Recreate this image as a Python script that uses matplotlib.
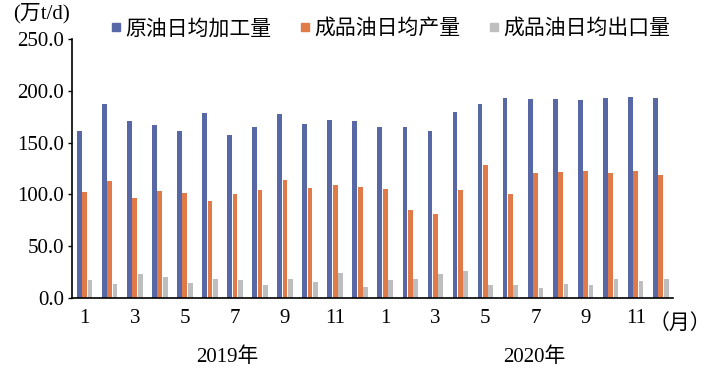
import matplotlib
matplotlib.use("Agg")
import matplotlib.pyplot as plt
import numpy as np
from matplotlib.lines import Line2D

plt.rcParams['font.family'] = ['Liberation Serif', 'Noto Sans CJK SC', 'DejaVu Sans']

months = ["1", "2", "3", "4", "5", "6", "7", "8", "9", "10", "11", "12"] * 2
tick_labels = ["1", "", "3", "", "5", "", "7", "", "9", "", "11", ""] * 2
years = ["2019年", "2020年"]
series_names = ["原油日均加工量", "成品油日均产量", "成品油日均出口量"]

crude = [161.3, 187.3, 171.0, 167.4, 161.3, 178.7, 157.4, 165.2, 177.7, 168.4, 171.9, 171.3,
         165.2, 165.2, 161.3, 179.7, 187.1, 192.9, 192.3, 192.0, 191.3, 193.2, 194.2, 193.2]
output = [102.0, 113.2, 96.5, 103.5, 101.0, 93.6, 100.3, 104.2, 114.2, 106.4, 109.0, 107.4,
          105.2, 84.9, 81.3, 104.2, 128.4, 100.3, 120.4, 121.3, 122.6, 120.7, 122.9, 118.7]
export = [17.1, 13.3, 22.9, 20.0, 14.2, 17.8, 17.1, 12.6, 18.4, 15.5, 24.2, 10.4,
          16.8, 18.1, 22.9, 26.1, 12.0, 12.3, 9.7, 13.3, 12.3, 18.1, 16.2, 18.4]

colors = ["#5868A6", "#E07A48", "#BEBEBE"]

fig = plt.figure(figsize=(7.14, 3.76), dpi=100)
ax = fig.add_axes([0.101, 0.208, 0.842, 0.687])

x = np.arange(len(crude))
w = 0.19
step = 0.215
for i, (vals, c, name) in enumerate(zip([crude, output, export], colors, series_names)):
    ax.bar(x + (i - 1) * step, vals, width=w, color=c, label=name, linewidth=0)

ax.set_xlim(-0.5, len(crude) - 0.5)
ax.set_ylim(0, 250)
ax.set_yticks(np.arange(0, 251, 50))
ax.set_yticklabels([f"{v:.1f}" for v in np.arange(0, 251, 50)], fontsize=15)
ax.set_xticks(x)
ax.set_xticklabels(tick_labels, fontsize=15)
ax.tick_params(axis='x', length=0, pad=8)
ax.tick_params(axis='y', length=3, width=1, direction='out', pad=3)
for s in ['top', 'right']:
    ax.spines[s].set_visible(False)
for s in ['left', 'bottom']:
    ax.spines[s].set_linewidth(1.2)

fig.text(0.952, 0.142, "（月）", fontsize=15, ha='center', va='center',
         family=['Noto Sans CJK SC'], fontweight='light')
fig.text(0.018, 0.965, "(万t/d)", fontsize=15, ha='left', va='center',
         family=['Liberation Serif', 'Noto Sans CJK SC'])
fig.text(0.319, 0.05, years[0], fontsize=15, ha='center', va='center')
fig.text(0.748, 0.05, years[1], fontsize=15, ha='center', va='center')

handles = [Line2D([0], [0], marker='s', color='none', markerfacecolor=c, markeredgecolor=c,
                  markersize=5.5) for c in colors]
leg = fig.legend(handles, series_names, loc='center left', bbox_to_anchor=(0.155, 0.925),
                 ncol=3, frameon=False, handlelength=0.5, handletextpad=0.2,
                 columnspacing=1.35, borderaxespad=0, borderpad=0,
                 prop={'family': ['Noto Sans CJK SC'], 'size': 15, 'weight': 'light'})

fig.savefig("out.png", dpi=100)
